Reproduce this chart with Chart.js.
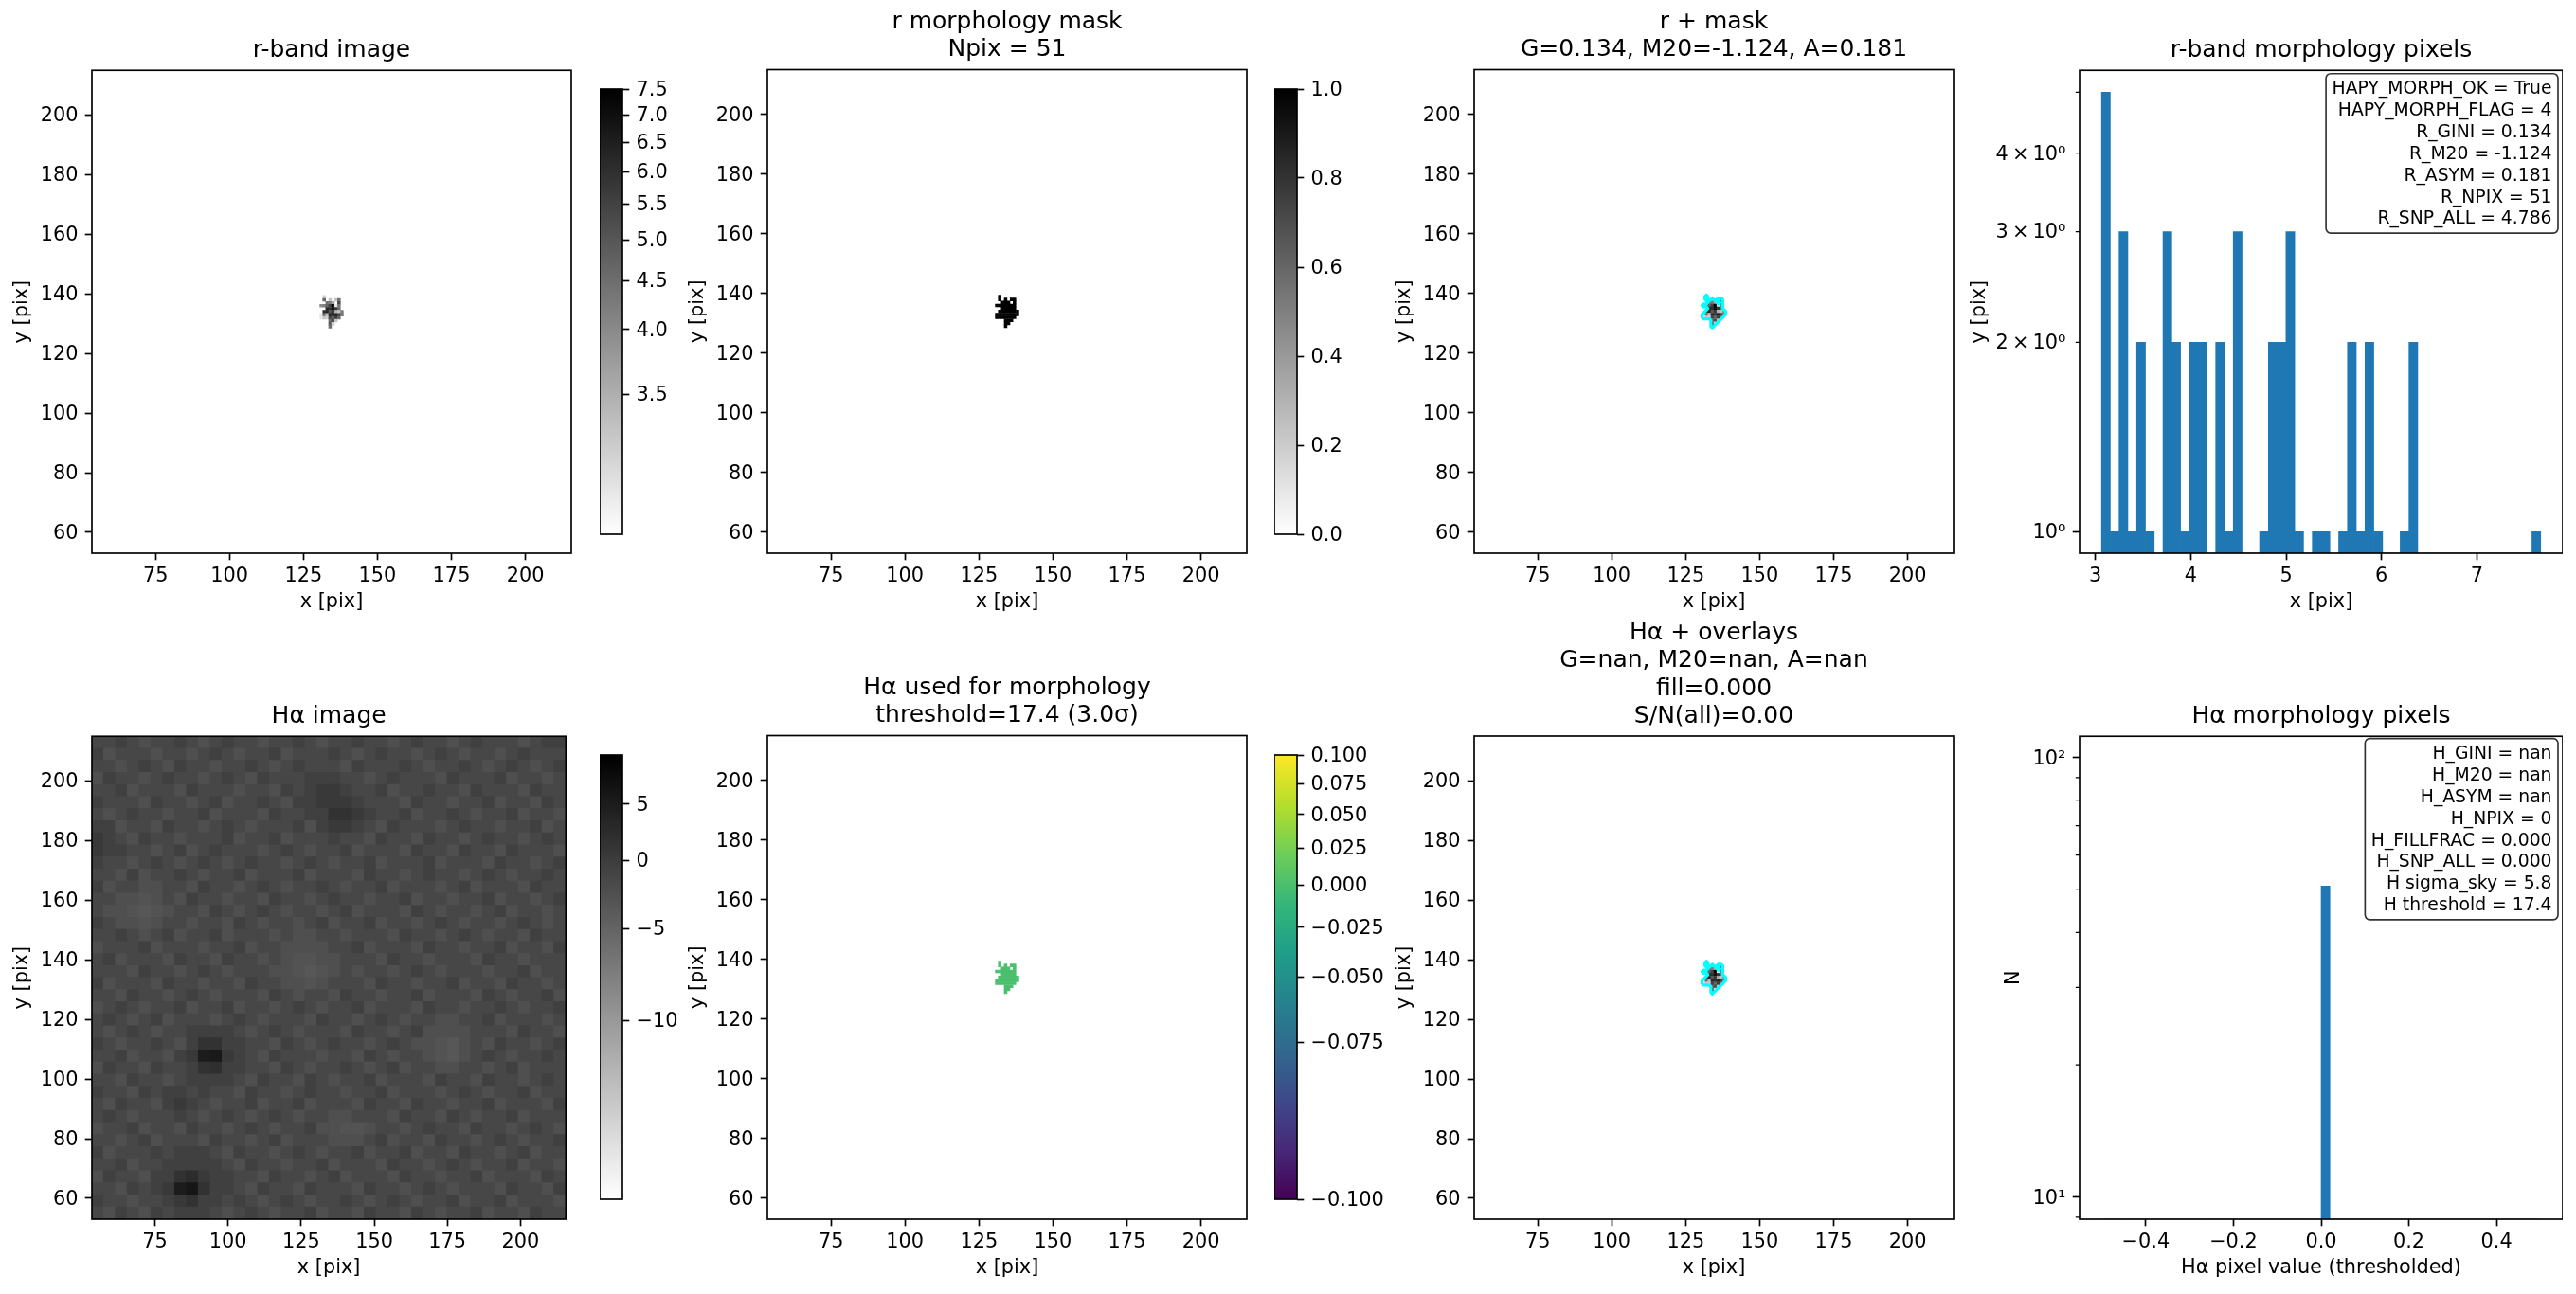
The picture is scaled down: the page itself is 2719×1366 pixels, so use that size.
<!DOCTYPE html>
<html><head><meta charset="utf-8">
<script src="https://cdn.jsdelivr.net/npm/chart.js@4"></script>
<style>html,body{margin:0;padding:0;background:#fff;width:2719px;height:1366px;overflow:hidden}canvas{position:absolute}</style>
</head><body>
<script>
// ---------- data ----------
const xTicks=[75,100,125,150,175,200];
const yTicks=[60,80,100,120,140,160,180,200];
const imgXRange=[53.5,215.5];
const imgYRange=[53,215];
const rPixelX=[131,132,133,134,135,136,137,138];
const rPixelY=[139,138,137,136,135,134,133,132,131,130,129];
// r-band pixel values read from shade; 0 = outside the mask
const rPixelRows=[
[0,3.2,0,0,0,0,0,0],
[0,4.6,0,3.3,0,3.3,4.4,0],
[0,0,4.4,4.2,3.6,0,5.3,0],
[4.0,4.2,4.7,5.5,7.6,3.1,4.3,0],
[0,0,6.3,6.0,7.0,5.8,4.6,0],
[0,6.0,6.3,5.0,5.8,3.5,3.3,4.2],
[3.1,4.5,3.4,6.2,6.0,6.3,5.5,4.3],
[3.1,3.3,3.2,5.5,4.7,5.6,4.6,0],
[0,0,0,4.6,5.3,3.3,0,0],
[0,0,0,4.9,3.2,0,0,0],
[0,0,0,4.5,0,0,0,0]];
// H-alpha image: hand-estimated local brightness on a coarse grid (top row = y 215)
const haRows=[
[-1.5,-1.5,-0.5,-1.5,-2.5,-1.5,-1.5,-0.5,-1.5,-2.5,-1.5,-0.5,-1.5,-1.5,-2.5,-1.5,-1.5,-0.5,-1.5,-2.5,-1.5,-1.5,-0.5,-1.5,-1.5,-2.5,-1.5,-0.5,-1.5,-1.5,-2.5,-1.5,-0.5,-1.5,-1.5,-1.5,-2.5,-1.5,-0.5,-0.5],
[-0.5,-2.5,-1.5,-1.5,-1.5,-2.5,-1.5,-1.5,-2.5,-1.5,-0.5,-1.5,-2.5,-1.5,-1.5,-0.5,-2.5,-1.5,-1.5,-1.5,-0.5,-1.5,-2.5,-1.5,-0.5,-1.5,-1.5,-2.5,-1.5,-0.5,-1.5,-2.5,-1.5,-1.5,-2.5,-1.5,-0.5,-1.5,-1.5,-1.5],
[-1.5,-1.5,-2.5,-1.5,-0.5,-1.5,-2.5,-0.5,-1.5,-1.5,-2.5,-1.5,-1.5,-0.5,-1.5,-2.5,-1.5,-0.5,-1.5,-1.5,-1.5,-2.5,-0.5,-1.5,-1.5,-1.5,-0.5,-1.5,-2.5,-1.5,-1.5,-0.5,-1.5,-2.5,-1.5,-0.5,-1.5,-2.5,-1.5,-0.5],
[-2.5,-0.5,-1.5,-1.5,-2.5,-1.5,-0.5,-1.5,-1.5,-2.5,-1.5,-0.5,-1.5,-2.5,-0.5,-1.5,-1.5,-1.5,-0.5,-0.5,-0.5,-1.5,-1.5,-2.5,-1.5,-0.5,-1.5,-1.5,-1.5,-2.5,-0.5,-1.5,-1.5,-1.5,-0.5,-2.5,-1.5,-1.5,-2.5,-1.5],
[-1.5,-1.5,-0.5,-2.5,-1.5,-1.5,-1.5,-2.5,-0.5,-1.5,-1.5,-1.5,-2.5,-1.5,-1.5,-2.5,-0.5,-1.5,-0.5,0.5,0.5,-0.5,-1.5,-1.5,-0.5,-2.5,-1.5,-1.5,-0.5,-1.5,-1.5,-2.5,-0.5,-1.5,-1.5,-1.5,-2.5,-0.5,-1.5,-1.5],
[-0.5,-1.5,-1.5,-1.5,-2.5,-0.5,-1.5,-1.5,-2.5,-1.5,-0.5,-2.5,-1.5,-1.5,-0.5,-1.5,-2.5,-0.5,-0.5,0.5,0.5,0.5,-0.5,-1.5,-1.5,-1.5,-2.5,-0.5,-1.5,-1.5,-2.5,-1.5,-1.5,-0.5,-2.5,-1.5,-1.5,-2.5,-0.5,-1.5],
[-1.5,-2.5,-1.5,-0.5,-1.5,-1.5,-2.5,-1.5,-1.5,-0.5,-2.5,-1.5,-1.5,-1.5,-2.5,-0.5,-1.5,-1.5,-0.5,-0.5,1.5,1.5,0.5,-0.5,-1.5,-1.5,-0.5,-2.5,-1.5,-1.5,-0.5,-1.5,-2.5,-1.5,-1.5,-0.5,-2.5,-1.5,-1.5,-2.5],
[-0.5,-0.5,-2.5,-1.5,-1.5,-2.5,-0.5,-1.5,-1.5,-2.5,-1.5,-0.5,-1.5,-2.5,-1.5,-1.5,-1.5,-0.5,-2.5,-0.5,0.5,0.5,-0.5,-1.5,-2.5,-0.5,-1.5,-1.5,-1.5,-2.5,-1.5,-0.5,-1.5,-1.5,-2.5,-1.5,-1.5,-0.5,-2.5,-1.5],
[0.5,-0.5,-1.5,-2.5,-0.5,-1.5,-1.5,-2.5,-1.5,-1.5,-1.5,-0.5,-2.5,-1.5,-1.5,-0.5,-2.5,-1.5,-1.5,-1.5,-0.5,-1.5,-1.5,-2.5,-0.5,-1.5,-1.5,-2.5,-0.5,-1.5,-1.5,-2.5,-1.5,-0.5,-1.5,-1.5,-2.5,-1.5,-0.5,-1.5],
[0.5,-0.5,-0.5,-1.5,-1.5,-2.5,-1.5,-0.5,-2.5,-1.5,-0.5,-1.5,-1.5,-1.5,-2.5,-1.5,-0.5,-1.5,-2.5,-1.5,-1.5,-0.5,-2.5,-1.5,-1.5,-1.5,-2.5,-0.5,-1.5,-1.5,-2.5,-0.5,-1.5,-1.5,-2.5,-0.5,-1.5,-1.5,-1.5,-2.5],
[-0.5,-1.5,-1.5,-2.5,-1.5,-0.5,-1.5,-2.5,-1.5,-0.5,-1.5,-2.5,-1.5,-0.5,-1.5,-1.5,-2.5,-1.5,-0.5,-1.5,-2.5,-1.5,-1.5,-0.5,-2.5,-1.5,-1.5,-1.5,-0.5,-2.5,-1.5,-1.5,-1.5,-2.5,-0.5,-1.5,-1.5,-2.5,-1.5,-0.5],
[-1.5,-1.5,-2.5,-0.5,-2.5,-1.5,-1.5,-0.5,-1.5,-2.5,-1.5,-1.5,-0.5,-2.5,-1.5,-1.5,-1.5,-0.5,-2.5,-1.5,-1.5,-1.5,-2.5,-0.5,-1.5,-1.5,-2.5,-1.5,-0.5,-1.5,-1.5,-2.5,-1.5,-0.5,-1.5,-2.5,-1.5,-1.5,-0.5,-1.5],
[-0.5,-2.5,-1.5,-1.5,-2.5,-2.5,-1.5,-1.5,-2.5,-0.5,-1.5,-1.5,-2.5,-1.5,-0.5,-1.5,-2.5,-1.5,-1.5,-0.5,-1.5,-2.5,-1.5,-1.5,-0.5,-2.5,-1.5,-1.5,-1.5,-2.5,-1.5,-0.5,-2.5,-1.5,-1.5,-1.5,-2.5,-0.5,-1.5,-1.5],
[-1.5,-1.5,-2.5,-2.5,-3,-2.5,-1.5,-2.5,-0.5,-1.5,-1.5,-2.5,-1.5,-1.5,-2.5,-0.5,-1.5,-1.5,-2.5,-1.5,-0.5,-1.5,-1.5,-2.5,-1.5,-1.5,-0.5,-2.5,-1.5,-1.5,-2.5,-1.5,-1.5,-0.5,-2.5,-1.5,-1.5,-2.5,-1.5,-0.5],
[-1.5,-2.5,-2.5,-3,-3.5,-3,-2.5,-1.5,-1.5,-2.5,-0.5,-1.5,-2.5,-1.5,-0.5,-1.5,-2.5,-1.5,-1.5,-2.5,-1.5,-0.5,-2.5,-1.5,-1.5,-1.5,-2.5,-0.5,-1.5,-2.5,-1.5,-1.5,-2.5,-1.5,-0.5,-2.5,-1.5,-1.5,-2.5,-1.5],
[-0.5,-1.5,-2.5,-2.5,-3,-2.5,-1.5,-1.5,-2.5,-1.5,-1.5,-2.5,-0.5,-1.5,-2.5,-1.5,-1.5,-2.5,-1.5,-0.5,-2.5,-1.5,-1.5,-0.5,-2.5,-1.5,-1.5,-2.5,-1.5,-0.5,-1.5,-2.5,-1.5,-1.5,-2.5,-1.5,-0.5,-1.5,-2.5,-1.5],
[-1.5,-1.5,-0.5,-1.5,-2.5,-1.5,-0.5,-2.5,-1.5,-1.5,-0.5,-2.5,-1.5,-1.5,-1.5,-2.5,-1.5,-2.5,-2.5,-1.5,-1.5,-2.5,-1.5,-1.5,-1.5,-2.5,-0.5,-1.5,-1.5,-2.5,-1.5,-0.5,-1.5,-2.5,-1.5,-1.5,-2.5,-0.5,-1.5,-1.5],
[-2.5,-1.5,-1.5,-1.5,-0.5,-2.5,-1.5,-1.5,-1.5,-2.5,-1.5,-1.5,-0.5,-2.5,-1.5,-1.5,-2.5,-2.5,-2.5,-2.5,-1.5,-1.5,-0.5,-2.5,-1.5,-1.5,-1.5,-2.5,-0.5,-1.5,-1.5,-2.5,-1.5,-1.5,-0.5,-2.5,-1.5,-1.5,-2.5,-0.5],
[-1.5,-0.5,-2.5,-1.5,-1.5,-1.5,-2.5,-0.5,-1.5,-1.5,-2.5,-0.5,-1.5,-1.5,-2.5,-1.5,-2.5,-3,-3,-2.5,-2.5,-1.5,-1.5,-1.5,-2.5,-0.5,-1.5,-1.5,-2.5,-1.5,-1.5,-1.5,-2.5,-0.5,-1.5,-1.5,-2.5,-1.5,-1.5,-1.5],
[-1.5,-1.5,-1.5,-2.5,-0.5,-1.5,-1.5,-2.5,-1.5,-0.5,-1.5,-2.5,-1.5,-1.5,-1.5,-2.5,-2.5,-3,-3.5,-3,-2.5,-1.5,-2.5,-1.5,-1.5,-2.5,-1.5,-0.5,-1.5,-2.5,-1.5,-1.5,-1.5,-2.5,-1.5,-1.5,-0.5,-2.5,-1.5,-1.5],
[-0.5,-2.5,-1.5,-1.5,-1.5,-2.5,-0.5,-1.5,-1.5,-2.5,-1.5,-1.5,-2.5,-0.5,-1.5,-1.5,-2.5,-2.5,-3,-2.5,-1.5,-1.5,-1.5,-2.5,-0.5,-1.5,-1.5,-2.5,-1.5,-1.5,-0.5,-2.5,-1.5,-1.5,-2.5,-0.5,-1.5,-1.5,-2.5,-1.5],
[-1.5,-1.5,-2.5,-0.5,-1.5,-1.5,-2.5,-1.5,-0.5,-1.5,-2.5,-1.5,-1.5,-1.5,-2.5,-0.5,-1.5,-2.5,-1.5,-1.5,-2.5,-0.5,-1.5,-1.5,-2.5,-1.5,-1.5,-0.5,-2.5,-1.5,-1.5,-1.5,-2.5,-0.5,-1.5,-2.5,-1.5,-1.5,-0.5,-2.5],
[-2.5,-1.5,-0.5,-1.5,-2.5,-1.5,-1.5,-0.5,-2.5,-1.5,-1.5,-0.5,-2.5,-1.5,-1.5,-2.5,-1.5,-0.5,-1.5,-2.5,-1.5,-1.5,-0.5,-2.5,-1.5,-1.5,-1.5,-2.5,-0.5,-1.5,-1.5,-2.5,-1.5,-1.5,-0.5,-1.5,-2.5,-1.5,-1.5,-0.5],
[-1.5,-0.5,-1.5,-2.5,-1.5,-0.5,-2.5,-1.5,-1.5,-1.5,-2.5,-1.5,-0.5,-1.5,-2.5,-1.5,-1.5,-1.5,-2.5,-0.5,-1.5,-1.5,-2.5,-1.5,-0.5,-1.5,-2.5,-1.5,-1.5,-2.5,-2.5,-1.5,-1.5,-0.5,-2.5,-1.5,-1.5,-1.5,-2.5,-1.5],
[-1.5,-2.5,-1.5,-0.5,-1.5,-2.5,-1.5,-1.5,-0.5,-0.5,-0.5,-0.5,-1.5,-2.5,-1.5,-0.5,-1.5,-2.5,-1.5,-1.5,-1.5,-2.5,-0.5,-1.5,-1.5,-2.5,-1.5,-0.5,-2.5,-2.5,-2.5,-2.5,-1.5,-1.5,-1.5,-2.5,-0.5,-1.5,-1.5,-2.5],
[-0.5,-1.5,-2.5,-1.5,-1.5,-0.5,-1.5,-2.5,-0.5,1.5,1.5,-0.5,-0.5,-1.5,-1.5,-2.5,-0.5,-1.5,-2.5,-1.5,-0.5,-1.5,-1.5,-2.5,-1.5,-0.5,-1.5,-2.5,-2.5,-3,-3.5,-2.5,-1.5,-2.5,-0.5,-1.5,-1.5,-2.5,-1.5,-0.5],
[-1.5,-1.5,-0.5,-2.5,-1.5,-1.5,-2.5,-0.5,0.5,5,5.5,0.5,-0.5,-1.5,-2.5,-0.5,-1.5,-1.5,-1.5,-2.5,-1.5,-1.5,-2.5,-0.5,-1.5,-2.5,-1.5,-1.5,-2.5,-3,-3.5,-2.5,-1.5,-0.5,-1.5,-2.5,-1.5,-1.5,-0.5,-1.5],
[-2.5,-0.5,-1.5,-1.5,-2.5,-0.5,-1.5,-1.5,-0.5,1.5,2,-0.5,-0.5,-1.5,-1.5,-2.5,-0.5,-1.5,-2.5,-1.5,-1.5,-0.5,-1.5,-2.5,-1.5,-0.5,-2.5,-1.5,-1.5,-2.5,-2.5,-1.5,-1.5,-2.5,-1.5,-0.5,-2.5,-1.5,-1.5,-1.5],
[-1.5,-1.5,-2.5,-0.5,-1.5,-1.5,-2.5,-1.5,-0.5,-0.5,-0.5,-0.5,-1.5,-2.5,-0.5,-1.5,-1.5,-2.5,-0.5,-1.5,-2.5,-1.5,-1.5,-0.5,-2.5,-1.5,-1.5,-1.5,-2.5,-0.5,-1.5,-1.5,-2.5,-0.5,-1.5,-1.5,-2.5,-1.5,-0.5,-1.5],
[-0.5,-1.5,-1.5,-2.5,-0.5,-1.5,-0.5,-0.5,-1.5,-0.5,-1.5,-1.5,-2.5,-0.5,-1.5,-1.5,-2.5,-1.5,-0.5,-1.5,-1.5,-2.5,-1.5,-1.5,-0.5,-2.5,-1.5,-1.5,-1.5,-2.5,-1.5,-0.5,-1.5,-2.5,-1.5,-1.5,-0.5,-2.5,-1.5,-1.5],
[-1.5,-2.5,-0.5,-1.5,-1.5,-2.5,-0.5,0.5,-0.5,-1.5,-2.5,-1.5,-1.5,-0.5,-2.5,-1.5,-1.5,-0.5,-2.5,-1.5,-1.5,-1.5,-2.5,-0.5,-1.5,-1.5,-2.5,-0.5,-1.5,-1.5,-2.5,-1.5,-1.5,-0.5,-2.5,-1.5,-1.5,-1.5,-2.5,-0.5],
[-1.5,-0.5,-1.5,-2.5,-1.5,-1.5,-1.5,-0.5,-1.5,-2.5,-1.5,-0.5,-1.5,-2.5,-1.5,-0.5,-1.5,-2.5,-1.5,-1.5,-2.5,-2.5,-1.5,-1.5,-1.5,-2.5,-0.5,-1.5,-1.5,-2.5,-0.5,-1.5,-2.5,-1.5,-1.5,-0.5,-2.5,-1.5,-1.5,-1.5],
[-2.5,-1.5,-1.5,-0.5,-2.5,-1.5,-1.5,-2.5,-0.5,-1.5,-1.5,-2.5,-1.5,-0.5,-1.5,-2.5,-1.5,-1.5,-0.5,-2.5,-2.5,-3,-3,-2.5,-1.5,-1.5,-2.5,-1.5,-0.5,-1.5,-1.5,-2.5,-0.5,-1.5,-1.5,-2.5,-1.5,-0.5,-1.5,-2.5],
[-1.5,-1.5,-2.5,-1.5,-0.5,-2.5,-1.5,-1.5,-1.5,-2.5,-0.5,-1.5,-1.5,-2.5,-1.5,-0.5,-2.5,-1.5,-1.5,-1.5,-2.5,-2.5,-2.5,-1.5,-0.5,-2.5,-1.5,-1.5,-2.5,-0.5,-1.5,-1.5,-2.5,-1.5,-0.5,-1.5,-2.5,-1.5,-1.5,-0.5],
[-0.5,-2.5,-1.5,-1.5,-1.5,-0.5,-1.5,-0.5,-0.5,-0.5,-1.5,-2.5,-0.5,-1.5,-1.5,-2.5,-1.5,-0.5,-1.5,-2.5,-1.5,-1.5,-0.5,-2.5,-1.5,-1.5,-0.5,-2.5,-1.5,-1.5,-2.5,-0.5,-1.5,-1.5,-2.5,-1.5,-0.5,-2.5,-1.5,-1.5],
[-1.5,-1.5,-0.5,-2.5,-1.5,-1.5,-0.5,-0.5,-0.5,-0.5,-0.5,-1.5,-2.5,-0.5,-1.5,-1.5,-2.5,-1.5,-1.5,-0.5,-2.5,-1.5,-1.5,-1.5,-2.5,-0.5,-1.5,-1.5,-2.5,-1.5,-0.5,-1.5,-2.5,-1.5,-1.5,-0.5,-2.5,-1.5,-1.5,-2.5],
[-2.5,-0.5,-1.5,-1.5,-2.5,-0.5,-0.5,1.5,2.5,0.5,-0.5,-0.5,-1.5,-1.5,-2.5,-0.5,-1.5,-1.5,-2.5,-1.5,-0.5,-2.5,-1.5,-1.5,-1.5,-2.5,-0.5,-1.5,-1.5,-2.5,-1.5,-1.5,-0.5,-2.5,-1.5,-1.5,-1.5,-2.5,-0.5,-1.5],
[-1.5,-1.5,-2.5,-0.5,-1.5,-0.5,0.5,5,6,1.5,-0.5,-0.5,-1.5,-2.5,-0.5,-1.5,-1.5,-2.5,-0.5,-1.5,-1.5,-1.5,-2.5,-0.5,-1.5,-1.5,-2.5,-1.5,-0.5,-1.5,-2.5,-1.5,-1.5,-1.5,-2.5,-0.5,-1.5,-1.5,-2.5,-0.5],
[-0.5,-1.5,-1.5,-2.5,-1.5,-1.5,-0.5,0.5,1.5,-0.5,-0.5,-1.5,-0.5,-1.5,-2.5,-1.5,-0.5,-1.5,-2.5,-1.5,-1.5,-0.5,-1.5,-2.5,-1.5,-0.5,-1.5,-2.5,-1.5,-1.5,-0.5,-2.5,-1.5,-1.5,-0.5,-2.5,-1.5,-1.5,-1.5,-2.5],
[-1.5,-2.5,-0.5,-1.5,-2.5,-0.5,-1.5,-0.5,-0.5,-0.5,-1.5,-2.5,-1.5,-0.5,-1.5,-2.5,-1.5,-1.5,-0.5,-2.5,-1.5,-1.5,-2.5,-0.5,-1.5,-1.5,-2.5,-0.5,-1.5,-2.5,-1.5,-1.5,-0.5,-2.5,-1.5,-1.5,-2.5,-0.5,-1.5,-1.5]];
// histograms
const rHistStart=3.064, rHistWidth=0.0921;
const rHistCounts=[5,1,3,1,2,1,0,3,2,1,2,2,0,2,1,3,0,0,1,2,2,3,1,0,1,1,0,1,2,1,2,1,0,0,1,2,0,0,0,0,0,0,0,0,0,0,0,0,0,1];
const haHistStart=-0.5, haHistWidth=0.02;
const haHistCounts=[0,0,0,0,0,0,0,0,0,0,0,0,0,0,0,0,0,0,0,0,0,0,0,0,0,51,0,0,0,0,0,0,0,0,0,0,0,0,0,0,0,0,0,0,0,0,0,0,0,0];
const rHistXTicks=[3,4,5,6,7];
const haHistXTicks=[-0.4,-0.2,0,0.2,0.4];
const rHistYLabels={1:'10\u2070',2:'2\u2009\u00d7\u200910\u2070',3:'3\u2009\u00d7\u200910\u2070',4:'4\u2009\u00d7\u200910\u2070',5:''};
const haHistYLabels={10:'10\u00b9',100:'10\u00b2'};
const haHistMinor=[9,20,30,40,50,60,70,80,90];
const rStatLines=['HAPY_MORPH_OK = True','HAPY_MORPH_FLAG = 4','R_GINI = 0.134','R_M20 = -1.124','R_ASYM = 0.181','R_NPIX = 51','R_SNP_ALL = 4.786'];
const haStatLines=['H_GINI = nan','H_M20 = nan','H_ASYM = nan','H_NPIX = 0','H_FILLFRAC = 0.000','H_SNP_ALL = 0.000','H sigma_sky = 5.8','H threshold = 17.4'];
// colour bars
const rNorm=[3.06,7.5], haNorm=[-13.85,9.95], viridisNorm=[-0.1,0.1];
const rBarTicks=[3.5,4,4.5,5,5.5,6,6.5,7,7.5];
const maskBarTicks=[0,0.2,0.4,0.6,0.8,1];
const haBarTicks=[-10,-5,0,5];
const viridisBarTicks=[-0.1,-0.075,-0.05,-0.025,0,0.025,0.05,0.075,0.1];
const viridisStops=['#440154','#482878','#3e4989','#31688e','#26828e','#1f9e89','#35b779','#6ece58','#b5de2b','#fde725'];
const thresholdedValue=0;

// ---------- layout & style ----------
const FONT='DejaVu Sans', TICK=20.83, TITLE=25, STAT=18.75, PANEL=510, LW=1.67, TL=7.3, LBL=1.5;
const colLeft=[97.4,809.7,1555.5,2195], rowTop=[74,777];
Chart.defaults.font.family=FONT; Chart.defaults.color='#000'; Chart.defaults.animation=false;
Chart.defaults.events=[];

class SqrtScale extends Chart.LinearScale{
  getPixelForValue(v){const t=(v-this.min)/(this.max-this.min);return this.getPixelForDecimal(Math.sqrt(Math.max(0,t)));}
  getValueForPixel(p){const d=this.getDecimalForPixel(p);return this.min+d*d*(this.max-this.min);}
}
SqrtScale.id='sqrt'; SqrtScale.defaults=Chart.LinearScale.defaults;
Chart.register(SqrtScale);

function sqrtFrac(v,n){return Math.sqrt(Math.max(0,Math.min(1,(v-n[0])/(n[1]-n[0]))));}
function grayR(f){const g=Math.round(255*(1-f));return `rgb(${g},${g},${g})`;}
function hexRgb(h){return [1,3,5].map(i=>parseInt(h.substr(i,2),16));}
function viridis(f){const p=f*(viridisStops.length-1),i=Math.min(viridisStops.length-2,Math.floor(p)),t=p-i;
  const a=hexRgb(viridisStops[i]),b=hexRgb(viridisStops[i+1]);return `rgb(${a.map((c,k)=>Math.round(c+(b[k]-c)*t)).join(',')})`;}

const framePlugin={id:'frame',afterDatasetsDraw(c){const a=c.chartArea,x=c.ctx;x.save();x.strokeStyle='#000';x.lineWidth=LW;
  x.strokeRect(a.left,a.top,a.right-a.left,a.bottom-a.top);
  const o=c.options.plugins.frame||{};
  if(o.minor){const s=c.scales.y;x.lineWidth=1.25;x.beginPath();o.minor.forEach(v=>{const p=s.getPixelForValue(v);x.moveTo(a.left,p);x.lineTo(a.left-4.2,p);});x.stroke();}
  if(o.lines){x.font=`${STAT}px "${FONT}"`;const lines=[...o.lines];const w=Math.max(...lines.map(l=>x.measureText(l).width));
    const rgt=a.right-5,top=a.top+o.top,bw=w+13,bh=lines.length*22.9+8;
    x.beginPath();x.roundRect(rgt-bw,top,bw,bh,5);x.fillStyle='rgba(255,255,255,0.8)';x.fill();x.strokeStyle='rgba(0,0,0,0.8)';x.lineWidth=LW;x.stroke();
    x.fillStyle='#000';x.textAlign='right';x.textBaseline='middle';
    lines.forEach((l,i)=>x.fillText(l,rgt-6.5,top+4+22.9*(i+.5)+1));}
  x.restore();}};
const rampPlugin={id:'ramp',beforeDatasetsDraw(c){const o=c.options.plugins.ramp;if(!o||!o.stops)return;const a=c.chartArea,x=c.ctx;
  const g=x.createLinearGradient(0,a.bottom,0,a.top);const st=[...o.stops];st.forEach((s,i)=>g.addColorStop(i/(st.length-1),s));
  x.fillStyle=g;x.fillRect(a.left,a.top,a.right-a.left,a.bottom-a.top);}};
Chart.register(framePlugin,rampPlugin);

function place(x,y,w,h){const c=document.createElement('canvas');c.width=Math.ceil(w);c.height=Math.ceil(h);c.style.left=x+'px';c.style.top=y+'px';document.body.appendChild(c);return c;}
const num=v=>String(v).replace('-','\u2212');
function axisBase(){return {bounds:'data',border:{display:false},
  grid:{drawOnChartArea:false,drawTicks:true,tickLength:TL,tickWidth:LW,tickColor:'#000',offset:false},
  ticks:{font:{size:TICK},color:'#000',autoSkip:false,maxRotation:0,minRotation:0,padding:5}};}
function setTicks(vals){return s=>{s.ticks=vals.map(v=>({value:v}));};}
function clearPad(s){s.paddingLeft=0;s.paddingRight=0;s.paddingTop=0;s.paddingBottom=0;}
function panelChart({col,row,title,datasets,type,xCfg,yCfg,xLabel,yLabel,labelDist,frame}){
  const m=Math.round(labelDist+16), titleH=Math.round(title.length*29.25+6);
  const left=colLeft[col]-m, top=rowTop[row]-titleH;
  const cv=place(left,top,PANEL+m,titleH+PANEL+68);
  const x=axisBase(),y=axisBase();
  const xT=xCfg.ticks,yT=yCfg.ticks,yG=yCfg.grid;
  Object.assign(x,xCfg,{afterFit:s=>{s.height=68;clearPad(s);},title:{display:true,text:xLabel,font:{size:TICK},color:'#000',padding:{top:4,bottom:4}}});
  Object.assign(y,yCfg,{afterFit:s=>{s.width=m;clearPad(s);},title:{display:true,text:yLabel,font:{size:TICK},color:'#000',padding:{top:4,bottom:4}}});
  if(xT)x.ticks=Object.assign(axisBase().ticks,xT);
  if(yT)y.ticks=Object.assign(axisBase().ticks,yT);
  y.grid=Object.assign(axisBase().grid,yG||{});
  return new Chart(cv,{type,data:{datasets},options:{responsive:false,maintainAspectRatio:false,devicePixelRatio:1,
    layout:{padding:0},scales:{x,y},
    plugins:{legend:{display:false},tooltip:{enabled:false},
      title:{display:true,fullSize:false,text:title,font:{size:TITLE,weight:'normal',lineHeight:1.17},color:'#000',padding:{top:0,bottom:6}},
      frame:frame||{}}}});
}
function imgAxes(){return {
  xCfg:{type:'linear',min:imgXRange[0],max:imgXRange[1],afterBuildTicks:setTicks(xTicks),ticks:{callback:v=>num(v)}},
  yCfg:{type:'linear',min:imgYRange[0],max:imgYRange[1],afterBuildTicks:setTicks(yTicks),ticks:{callback:v=>num(v),padding:7.3,labelOffset:LBL}}};}
function cellDataset(points,cellW,color,extra){
  return {data:points,parsing:false,normalized:true,showLine:false,pointStyle:'rect',pointBorderWidth:0,
    pointRadius:((cellW*PANEL/(imgXRange[1]-imgXRange[0]))+(extra||0.4))/Math.SQRT2,
    pointBackgroundColor:points.map(p=>color(p.v)),clip:true};
}
function rPoints(fn){const p=[];rPixelRows.forEach((r,i)=>r.forEach((v,j)=>{if(v>0)p.push({x:rPixelX[j],y:rPixelY[i],v:fn(v)});}));return p;}
const rGray=v=>grayR(sqrtFrac(v,rNorm));
function inMask(x,y){const i=rPixelY.indexOf(y),j=rPixelX.indexOf(x);return i>=0&&j>=0&&rPixelRows[i][j]>0?1:0;}
function contourPoints(){const out=[];
  for(let x=rPixelX[0]-1;x<=rPixelX[rPixelX.length-1];x++)for(let y=rPixelY[rPixelY.length-1]-1;y<=rPixelY[0];y++){
    const a=inMask(x,y),b=inMask(x+1,y),c=inMask(x+1,y+1),d=inMask(x,y+1),e=[];
    if(a!==b)e.push([x+.5,y]);if(b!==c)e.push([x+1,y+.5]);if(c!==d)e.push([x+.5,y+1]);if(d!==a)e.push([x,y+.5]);
    for(let k=0;k+1<e.length;k+=2){out.push({x:e[k][0],y:e[k][1]},{x:e[k+1][0],y:e[k+1][1]},{x:NaN,y:NaN});}
  }
  return out;}
function contourDataset(){return {data:contourPoints(),showLine:true,spanGaps:false,borderColor:'#00ffff',borderWidth:3.2,borderCapStyle:'round',borderJoinStyle:'round',pointRadius:0,tension:0,clip:true};}
function colorbar({col,top,stops,scale,ticks,fmt,height}){
  const cbX=[632.6,1345][col];
  const cv=place(cbX,top-20,24+110,height+40);
  const y=axisBase();
  Object.assign(y,scale,{position:'right',afterBuildTicks:setTicks(ticks),afterFit:s=>{s.width=110;clearPad(s);}});
  y.ticks.callback=fmt; y.ticks.padding=7.3; y.ticks.labelOffset=LBL;
  new Chart(cv,{type:'scatter',data:{datasets:[]},options:{responsive:false,maintainAspectRatio:false,devicePixelRatio:1,
    layout:{padding:{top:20,bottom:20,left:0,right:0}},
    scales:{x:{display:false,type:'linear',min:0,max:1},y},
    plugins:{legend:{display:false},tooltip:{enabled:false},title:{display:false},ramp:{stops},frame:{}}}});
}
const grayStops=[grayR(0),grayR(1)];

// ---------- top row ----------
panelChart(Object.assign({col:0,row:0,title:['r-band image'],type:'scatter',xLabel:'x [pix]',yLabel:'y [pix]',labelDist:74.4,
  datasets:[cellDataset(rPoints(v=>v),1,v=>rGray(v))]},imgAxes()));
colorbar({col:0,top:93.5,height:470,stops:grayStops,scale:{type:'sqrt',min:rNorm[0],max:rNorm[1]},ticks:rBarTicks,fmt:v=>v.toFixed(1)});

panelChart(Object.assign({col:1,row:0,title:['r morphology mask','Npix = 51'],type:'scatter',xLabel:'x [pix]',yLabel:'y [pix]',labelDist:74.4,
  datasets:[cellDataset(rPoints(v=>1),1,v=>grayR(v))]},imgAxes()));
colorbar({col:1,top:93.5,height:470,stops:grayStops,scale:{type:'linear',min:0,max:1},ticks:maskBarTicks,fmt:v=>v.toFixed(1)});

panelChart(Object.assign({col:2,row:0,title:['r + mask','G=0.134, M20=-1.124, A=0.181'],type:'scatter',xLabel:'x [pix]',yLabel:'y [pix]',labelDist:74.4,
  datasets:[contourDataset(),cellDataset(rPoints(v=>v),1,v=>rGray(v))]},imgAxes()));

panelChart({col:3,row:0,title:['r-band morphology pixels'],type:'bar',xLabel:'x [pix]',yLabel:'y [pix]',labelDist:106.4,
  datasets:[{data:rHistCounts.map((n,k)=>({x:rHistStart+rHistWidth*(k+.5),y:n})),backgroundColor:'#1f77b4',barPercentage:1,categoryPercentage:1,borderWidth:0}],
  xCfg:{type:'linear',offset:false,min:2.834,max:7.9,afterBuildTicks:setTicks(rHistXTicks),ticks:{callback:v=>num(v)}},
  yCfg:{type:'logarithmic',beginAtZero:false,min:0.924,max:5.417,afterBuildTicks:setTicks([1,2,3,4,5]),
    grid:{tickColor:c=>c.tick&&c.tick.value===1?'#000':'rgba(0,0,0,0)'},ticks:{padding:7.3,labelOffset:LBL,callback:v=>rHistYLabels[v]}},
  frame:{minor:[2,3,4,5],lines:rStatLines,top:3.5}});

// ---------- bottom row ----------
const haPoints=[];const haCell=(imgXRange[1]-imgXRange[0])/haRows[0].length;
haRows.forEach((r,i)=>r.forEach((v,j)=>haPoints.push({x:imgXRange[0]+haCell*(j+.5),y:imgYRange[1]-haCell*(i+.5),v})));
panelChart(Object.assign({col:0,row:1,title:['H\u03b1 image'],type:'scatter',xLabel:'x [pix]',yLabel:'y [pix]',labelDist:74.4,
  datasets:[cellDataset(haPoints,haCell,v=>grayR(sqrtFrac(v,haNorm)),1)]},imgAxes()));
colorbar({col:0,top:797,height:469,stops:grayStops,scale:{type:'sqrt',min:haNorm[0],max:haNorm[1]},ticks:haBarTicks,fmt:v=>num(v)});

panelChart(Object.assign({col:1,row:1,title:['H\u03b1 used for morphology','threshold=17.4 (3.0\u03c3)'],type:'scatter',xLabel:'x [pix]',yLabel:'y [pix]',labelDist:74.4,
  datasets:[cellDataset(rPoints(v=>thresholdedValue),1,v=>viridis(sqrtFrac(v,viridisNorm)))]},imgAxes()));
colorbar({col:1,top:797,height:469,stops:viridisStops,scale:{type:'sqrt',min:viridisNorm[0],max:viridisNorm[1]},ticks:viridisBarTicks,fmt:v=>num(v.toFixed(3))});

panelChart(Object.assign({col:2,row:1,title:['H\u03b1 + overlays','G=nan, M20=nan, A=nan','fill=0.000','S/N(all)=0.00'],type:'scatter',xLabel:'x [pix]',yLabel:'y [pix]',labelDist:74.4,
  datasets:[contourDataset(),cellDataset(rPoints(v=>v),1,v=>rGray(v))]},imgAxes()));

panelChart({col:3,row:1,title:['H\u03b1 morphology pixels'],type:'bar',xLabel:'H\u03b1 pixel value (thresholded)',yLabel:'N',labelDist:70,
  datasets:[{data:haHistCounts.map((n,k)=>({x:haHistStart+haHistWidth*(k+.5),y:n})),backgroundColor:'#1f77b4',barPercentage:1,categoryPercentage:1,borderWidth:0}],
  xCfg:{type:'linear',offset:false,min:-0.551,max:0.551,afterBuildTicks:setTicks(haHistXTicks),ticks:{callback:v=>num(v.toFixed(1))}},
  yCfg:{type:'logarithmic',beginAtZero:false,min:8.91,max:111.8,afterBuildTicks:setTicks([10,100]),ticks:{padding:7.3,labelOffset:LBL,callback:v=>haHistYLabels[v]}},
  frame:{minor:haHistMinor,lines:haStatLines,top:2.4}});
</script>
</body></html>
